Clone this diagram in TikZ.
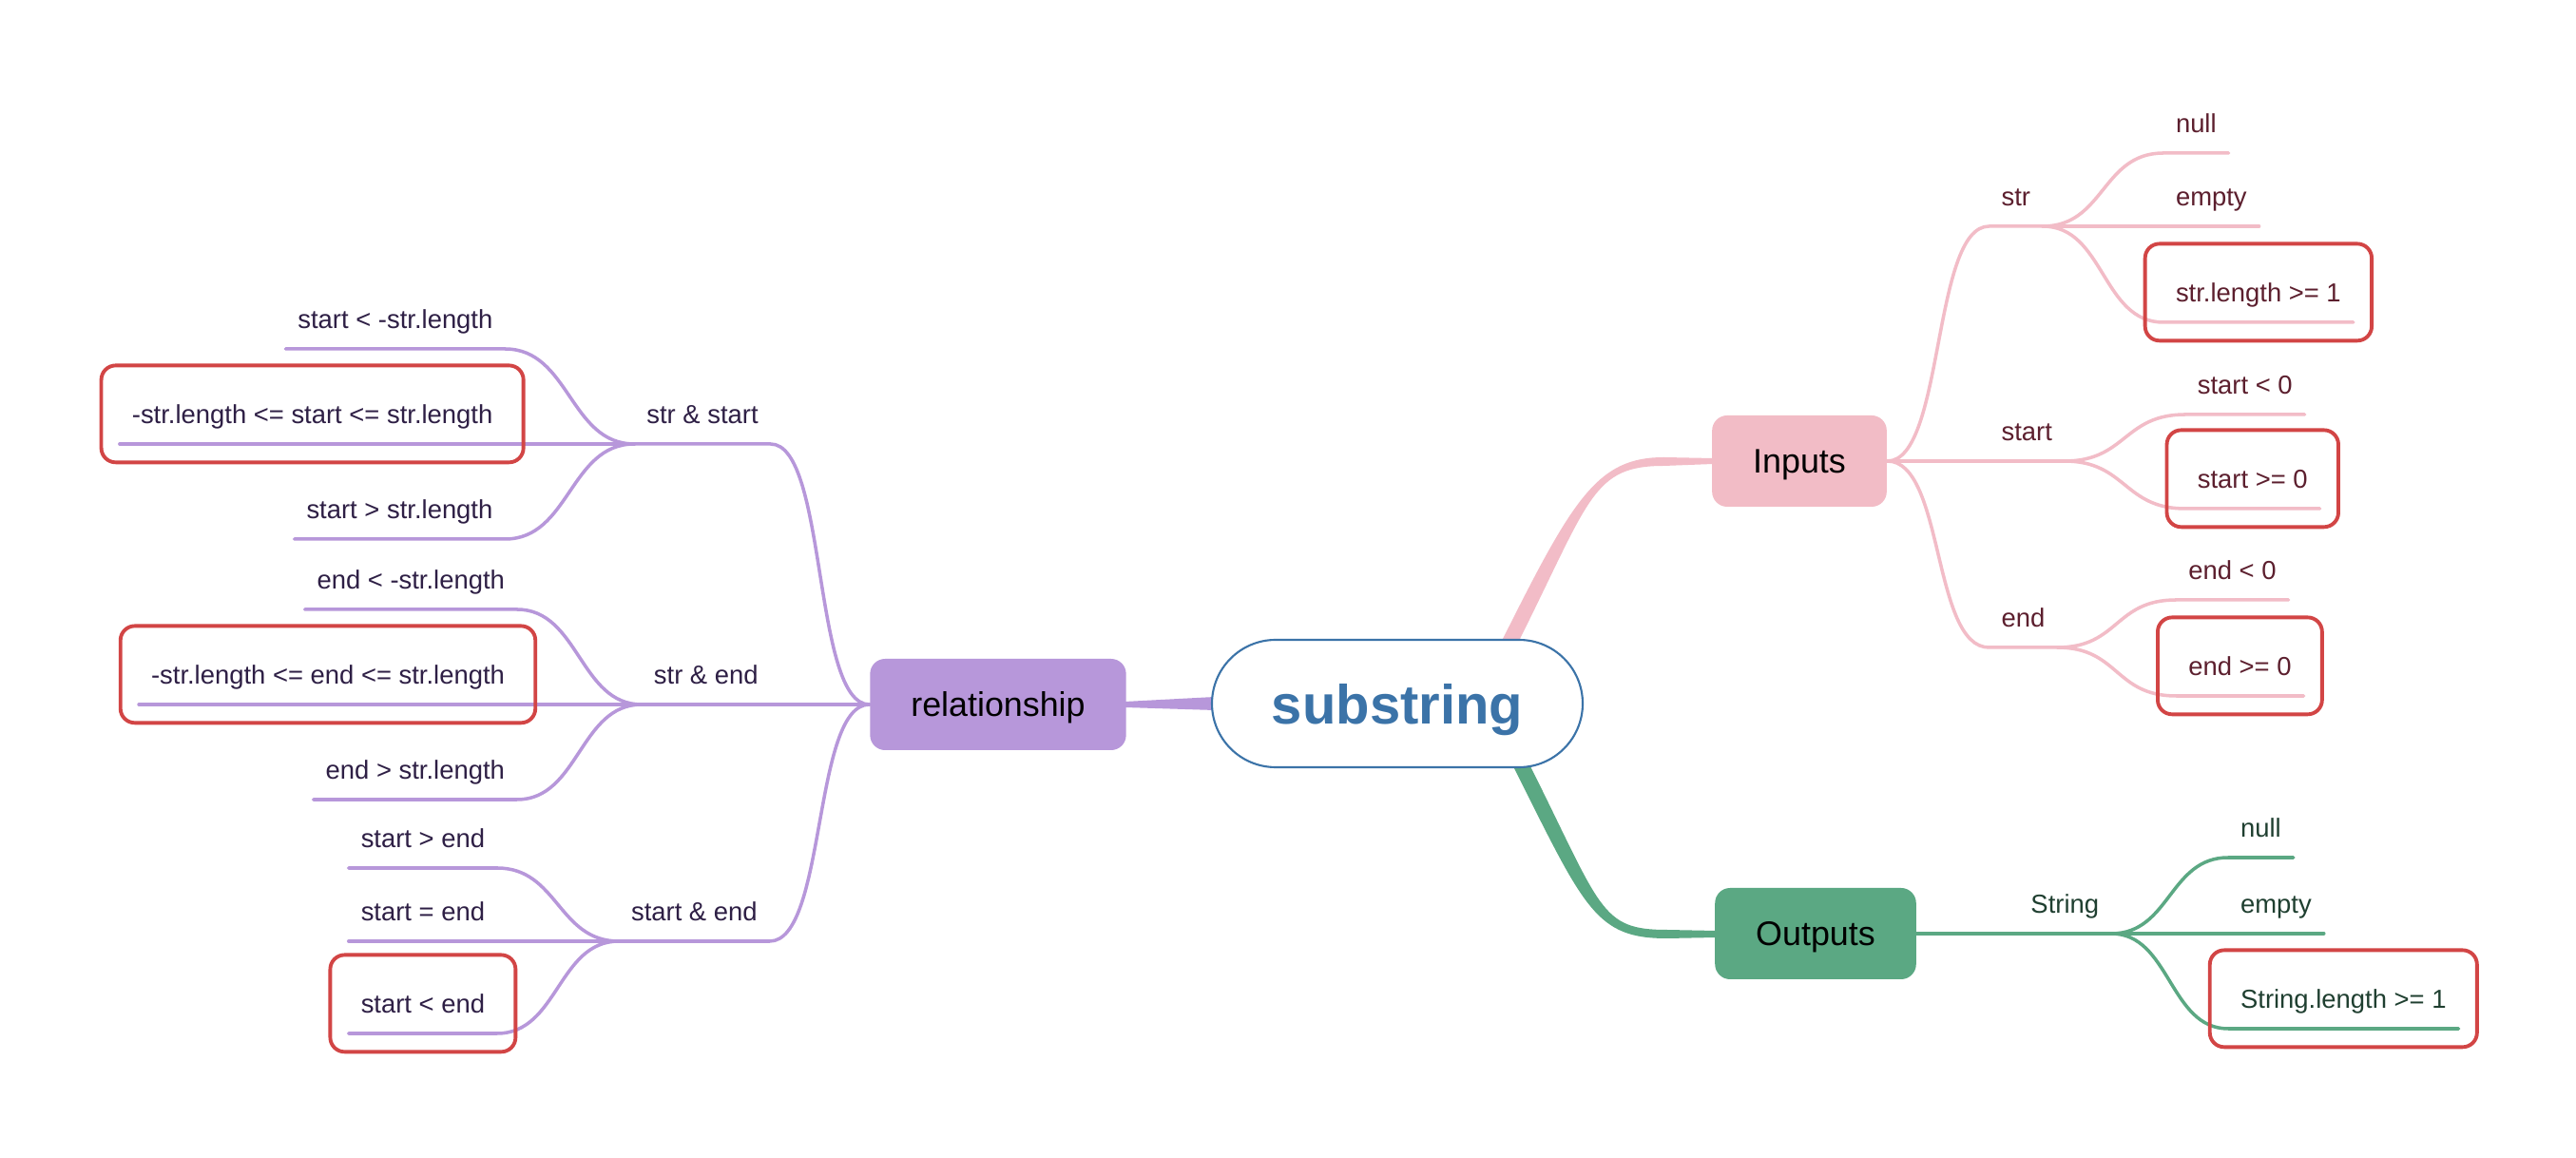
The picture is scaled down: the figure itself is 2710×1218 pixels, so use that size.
\documentclass[tikz,border=0pt]{standalone}
\usepackage{fontspec}
\setmainfont{Liberation Sans}
\usepackage{tikz}
\usetikzlibrary{calc,fit,backgrounds,positioning}
\definecolor{inpline}{RGB}{242,188,199}
\definecolor{inpfill}{RGB}{242,188,198}
\definecolor{inptext}{RGB}{92,31,46}
\definecolor{relline}{RGB}{183,151,218}
\definecolor{relfill}{RGB}{183,151,218}
\definecolor{reltext}{RGB}{46,31,69}
\definecolor{outline}{RGB}{91,168,131}
\definecolor{outfill}{RGB}{91,168,131}
\definecolor{outtext}{RGB}{31,63,48}
\definecolor{boxred}{RGB}{210,69,69}
\definecolor{subblue}{RGB}{59,115,168}

\begin{document}
\begin{tikzpicture}[x=0.1mm, y=-0.1mm,
  hub/.style={draw=subblue, line width=0.6pt, fill=white, rounded corners=6.7mm, minimum width=39mm, minimum height=13.4mm, text depth=0pt, text=subblue, font=\fontsize{16.5}{20}\selectfont\bfseries},
  topic/.style={rounded corners=4.5pt, minimum height=9.6mm, inner xsep=4.3mm, text depth=0pt, font=\fontsize{10.2}{12}\selectfont},
  leaf/.style={inner xsep=3.5pt, inner ysep=6pt, text height=5.6pt, text depth=0pt, font=\fontsize{7.8}{9}\selectfont},
  branch/.style={line width=1pt, line cap=round},
  redbox/.style={draw=boxred, line width=1.1pt, rounded corners=4.3pt, inner sep=5.5pt}]
\useasboundingbox (0,0) rectangle (2710,1218);

\node[hub] (substring) at (1470,740) {substring};
\node[topic, fill=inpfill] (inputs) at (1893,485) {Inputs};
\node[topic, fill=outfill] (outputs) at (1910,982) {Outputs};
\node[topic, fill=relfill] (relationship) at (1050,741) {relationship};

\node[leaf, text=inptext, anchor=south west] (inpstr) at ($(inputs.east)+(107,-247)$) {str};
\node[leaf, text=inptext, anchor=south west] (inpstart) at ($(inputs.east)+(107,0)$) {start};
\node[leaf, text=inptext, anchor=south west] (inpend) at ($(inputs.east)+(107,196)$) {end};
\node[leaf, text=inptext, anchor=south west] (strnull) at ($(inpstr.south east)+(127,-77)$) {null};
\node[leaf, text=inptext, anchor=south west] (strempty) at ($(inpstr.south east)+(127,0)$) {empty};
\node[leaf, text=inptext, anchor=south west] (strlen) at ($(inpstr.south east)+(127,101)$) {str.length >= 1};
\node[leaf, text=inptext, anchor=south west] (startneg) at ($(inpstart.south east)+(127,-49)$) {start < 0};
\node[leaf, text=inptext, anchor=south west] (startpos) at ($(inpstart.south east)+(127,50)$) {start >= 0};
\node[leaf, text=inptext, anchor=south west] (endneg) at ($(inpend.south east)+(125,-50)$) {end < 0};
\node[leaf, text=inptext, anchor=south west] (endpos) at ($(inpend.south east)+(125,51)$) {end >= 0};

\node[leaf, text=outtext, anchor=south west] (outstr) at ($(outputs.east)+(107,0)$) {String};
\node[leaf, text=outtext, anchor=south west] (outnull) at ($(outstr.south east)+(123,-80)$) {null};
\node[leaf, text=outtext, anchor=south west] (outempty) at ($(outstr.south east)+(123,0)$) {empty};
\node[leaf, text=outtext, anchor=south west] (outlen) at ($(outstr.south east)+(123,100)$) {String.length >= 1};

\node[leaf, text=reltext, anchor=south east] (relss) at ($(relationship.west)+(-104,-274)$) {str \& start};
\node[leaf, text=reltext, anchor=south east] (relse) at ($(relationship.west)+(-104,0)$) {str \& end};
\node[leaf, text=reltext, anchor=south east] (relst) at ($(relationship.west)+(-105,249)$) {start \& end};
\node[leaf, text=reltext, anchor=south east] (sslow) at ($(relss.south west)+(-136,-100)$) {start < -str.length};
\node[leaf, text=reltext, anchor=south east] (ssmid) at ($(relss.south west)+(-136,0)$) {-str.length <= start <= str.length};
\node[leaf, text=reltext, anchor=south east] (sshigh) at ($(relss.south west)+(-136,100)$) {start > str.length};
\node[leaf, text=reltext, anchor=south east] (selow) at ($(relse.south west)+(-131,-100)$) {end < -str.length};
\node[leaf, text=reltext, anchor=south east] (semid) at ($(relse.south west)+(-131,0)$) {-str.length <= end <= str.length};
\node[leaf, text=reltext, anchor=south east] (sehigh) at ($(relse.south west)+(-131,100)$) {end > str.length};
\node[leaf, text=reltext, anchor=south east] (stgt) at ($(relst.south west)+(-128,-77)$) {start > end};
\node[leaf, text=reltext, anchor=south east] (steq) at ($(relst.south west)+(-128,0)$) {start = end};
\node[leaf, text=reltext, anchor=south east] (stlt) at ($(relst.south west)+(-128,97)$) {start < end};

\draw[branch, inpline] (inputs.east) .. controls +(60,0) and +(-60,0) .. (inpstr.south west) -- (inpstr.south east);
\draw[branch, inpline] (inputs.east) -- (inpstart.south east);
\draw[branch, inpline] (inputs.east) .. controls +(60,0) and +(-60,0) .. (inpend.south west) -- (inpend.south east);
\draw[branch, inpline] (inpstr.south east) .. controls +(65,0) and +(-65,0) .. (strnull.south west) -- (strnull.south east);
\draw[branch, inpline] (inpstr.south east) -- (strempty.south east);
\draw[branch, inpline] (inpstr.south east) .. controls +(65,0) and +(-65,0) .. (strlen.south west) -- (strlen.south east);
\draw[branch, inpline] (inpstart.south east) .. controls +(65,0) and +(-65,0) .. (startneg.south west) -- (startneg.south east);
\draw[branch, inpline] (inpstart.south east) .. controls +(65,0) and +(-65,0) .. (startpos.south west) -- (startpos.south east);
\draw[branch, inpline] (inpend.south east) .. controls +(65,0) and +(-65,0) .. (endneg.south west) -- (endneg.south east);
\draw[branch, inpline] (inpend.south east) .. controls +(65,0) and +(-65,0) .. (endpos.south west) -- (endpos.south east);

\draw[branch, outline] (outputs.east) -- (outstr.south east);
\draw[branch, outline] (outstr.south east) .. controls +(62,0) and +(-62,0) .. (outnull.south west) -- (outnull.south east);
\draw[branch, outline] (outstr.south east) -- (outempty.south east);
\draw[branch, outline] (outstr.south east) .. controls +(62,0) and +(-62,0) .. (outlen.south west) -- (outlen.south east);

\draw[branch, relline] (relationship.west) .. controls +(-60,0) and +(60,0) .. (relss.south east) -- (relss.south west);
\draw[branch, relline] (relationship.west) -- (relse.south west);
\draw[branch, relline] (relationship.west) .. controls +(-60,0) and +(60,0) .. (relst.south east) -- (relst.south west);
\draw[branch, relline] (relss.south west) .. controls +(-68,0) and +(68,0) .. (sslow.south east) -- (sslow.south west);
\draw[branch, relline] (relss.south west) -- (ssmid.south west);
\draw[branch, relline] (relss.south west) .. controls +(-68,0) and +(68,0) .. (sshigh.south east) -- (sshigh.south west);
\draw[branch, relline] (relse.south west) .. controls +(-65,0) and +(65,0) .. (selow.south east) -- (selow.south west);
\draw[branch, relline] (relse.south west) -- (semid.south west);
\draw[branch, relline] (relse.south west) .. controls +(-65,0) and +(65,0) .. (sehigh.south east) -- (sehigh.south west);
\draw[branch, relline] (relst.south west) .. controls +(-64,0) and +(64,0) .. (stgt.south east) -- (stgt.south west);
\draw[branch, relline] (relst.south west) -- (steq.south west);
\draw[branch, relline] (relst.south west) .. controls +(-64,0) and +(64,0) .. (stlt.south east) -- (stlt.south west);

\node[redbox, fit=(strlen)] (strlenbox) {};
\node[redbox, fit=(startpos)] (startposbox) {};
\node[redbox, fit=(endpos)] (endposbox) {};
\node[redbox, fit=(outlen)] (outlenbox) {};
\node[redbox, fit=(ssmid)] (ssmidbox) {};
\node[redbox, fit=(semid)] (semidbox) {};
\node[redbox, fit=(stlt)] (stltbox) {};

\begin{scope}[on background layer]
\fill[white] (0,0) rectangle (2710,1218);
\fill[inpline] ($(substring.north)+(110,2)$) .. controls +(75,-150) and +(-70,0) .. ($(inputs.west)+(-50,-4)$) -- ($(inputs.west)+(2,-3)$) -- ($(inputs.west)+(2,3)$) -- ($(inputs.west)+(-50,5)$) .. controls +(-75,0) and +(75,-150) .. ($(substring.north)+(128,2)$) -- cycle;
\fill[outline] ($(substring.south)+(122,-2)$) .. controls +(75,150) and +(-75,0) .. ($(outputs.west)+(-50,5)$) -- ($(outputs.west)+(2,4)$) -- ($(outputs.west)+(2,-3)$) -- ($(outputs.west)+(-50,-4)$) .. controls +(-70,0) and +(75,150) .. ($(substring.south)+(140,-2)$) -- cycle;
\fill[relline] ($(relationship.east)+(-2,-3)$) -- ($(substring.west)+(4,-7)$) -- ($(substring.west)+(4,7)$) -- ($(relationship.east)+(-2,3)$) -- cycle;
\end{scope}
\end{tikzpicture}
\end{document}
